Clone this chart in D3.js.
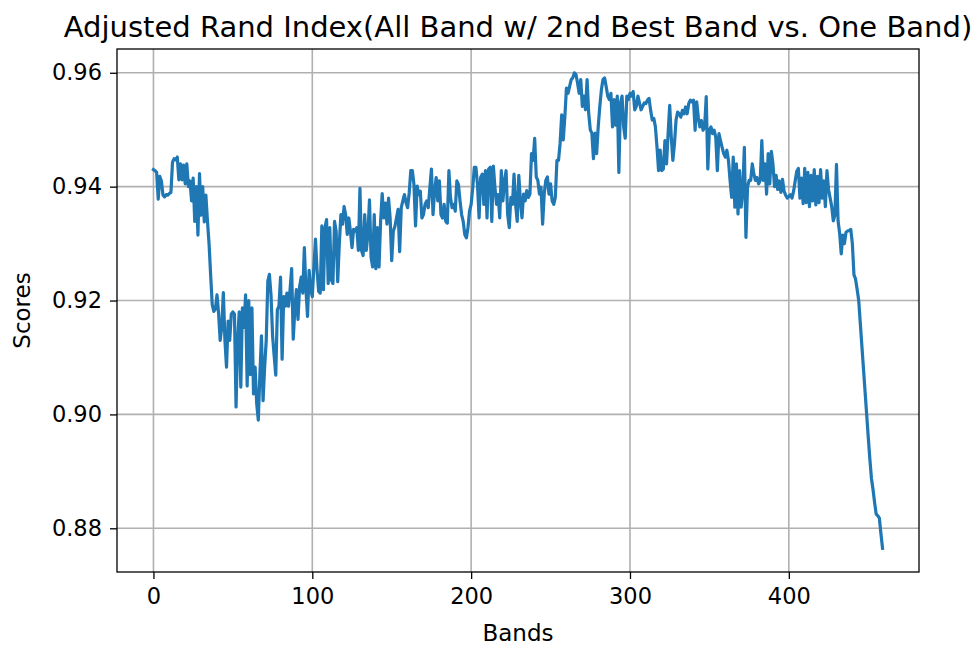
<!DOCTYPE html>
<html>
<head>
<meta charset="utf-8">
<script src="https://cdn.jsdelivr.net/npm/d3@7"></script>
<style>
body { margin: 0; background: #fff; }
text { font-family: "DejaVu Sans", sans-serif; fill: #000; }
.axis path, .axis line { stroke: #000; }
</style>
</head>
<body>
<div class="chart"></div>
<script>
// Adjusted Rand Index per band (index = band number)
var scores = [
    0.9430,0.9428,0.9425,0.9378,0.9418,0.9410,0.9385,0.9382,0.9386,0.9385,
    0.9388,0.9390,0.9443,0.9449,0.9447,0.9452,0.9412,0.9440,0.9412,0.9438,
    0.9405,0.9440,0.9400,0.9410,0.9375,0.9415,0.9339,0.9400,0.9315,0.9423,
    0.9350,0.9400,0.9338,0.9385,0.9340,0.9300,0.9245,0.9193,0.9181,0.9185,
    0.9210,0.9178,0.9130,0.9153,0.9214,0.9130,0.9083,0.9164,0.9130,0.9176,
    0.9180,0.9176,0.9013,0.9130,0.9180,0.9048,0.9187,0.9153,0.9210,0.9050,
    0.9200,0.9070,0.9187,0.9036,0.9083,0.9019,0.8990,0.9070,0.9138,0.9024,
    0.9083,0.9130,0.9234,0.9246,0.9210,0.9138,0.9103,0.9069,0.9184,0.9190,
    0.9241,0.9097,0.9207,0.9190,0.9213,0.9190,0.9219,0.9256,0.9132,0.9184,
    0.9219,0.9167,0.9224,0.9241,0.9213,0.9293,0.9219,0.9172,0.9253,0.9219,
    0.9207,0.9259,0.9308,0.9253,0.9216,0.9213,0.9331,0.9219,0.9328,0.9342,
    0.9230,0.9328,0.9236,0.9230,0.9339,0.9322,0.9233,0.9299,0.9351,0.9334,
    0.9365,0.9351,0.9316,0.9345,0.9322,0.9293,0.9325,0.9322,0.9328,0.9288,
    0.9397,0.9288,0.9279,0.9351,0.9288,0.9316,0.9377,0.9276,0.9259,0.9351,
    0.9256,0.9328,0.9259,0.9339,0.9388,0.9345,0.9371,0.9334,0.9380,0.9345,
    0.9270,0.9322,0.9330,0.9345,0.9360,0.9286,0.9363,0.9375,0.9386,0.9372,
    0.9363,0.9389,0.9428,0.9428,0.9404,0.9331,0.9401,0.9386,0.9392,0.9345,
    0.9351,0.9369,0.9375,0.9363,0.9398,0.9431,0.9351,0.9392,0.9416,0.9375,
    0.9410,0.9351,0.9345,0.9369,0.9339,0.9336,0.9428,0.9381,0.9363,0.9369,
    0.9357,0.9410,0.9404,0.9375,0.9351,0.9339,0.9316,0.9310,0.9328,0.9357,
    0.9369,0.9398,0.9434,0.9434,0.9404,0.9345,0.9416,0.9422,0.9369,0.9428,
    0.9345,0.9431,0.9434,0.9339,0.9436,0.9398,0.9369,0.9386,0.9345,0.9428,
    0.9375,0.9410,0.9428,0.9351,0.9328,0.9381,0.9369,0.9422,0.9369,0.9339,
    0.9420,0.9375,0.9345,0.9387,0.9375,0.9393,0.9381,0.9387,0.9458,0.9446,
    0.9485,0.9417,0.9411,0.9387,0.9399,0.9334,0.9387,0.9411,0.9417,0.9387,
    0.9405,0.9375,0.9369,0.9381,0.9446,0.9446,0.9476,0.9526,0.9482,0.9523,
    0.9573,0.9564,0.9576,0.9588,0.9591,0.9600,0.9597,0.9582,0.9564,0.9588,
    0.9541,0.9559,0.9535,0.9588,0.9529,0.9500,0.9494,0.9449,0.9494,0.9458,
    0.9505,0.9541,0.9570,0.9588,0.9591,0.9576,0.9559,0.9553,0.9564,0.9505,
    0.9553,0.9508,0.9559,0.9425,0.9547,0.9559,0.9505,0.9485,0.9559,0.9553,
    0.9564,0.9559,0.9567,0.9535,0.9541,0.9559,0.9547,0.9535,0.9541,0.9547,
    0.9546,0.9552,0.9555,0.9534,0.9517,0.9520,0.9505,0.9470,0.9428,0.9464,
    0.9428,0.9431,0.9481,0.9440,0.9493,0.9543,0.9487,0.9446,0.9475,0.9517,
    0.9531,0.9528,0.9522,0.9534,0.9528,0.9540,0.9528,0.9546,0.9552,0.9549,
    0.9552,0.9499,0.9549,0.9522,0.9505,0.9516,0.9499,0.9505,0.9558,0.9431,
    0.9499,0.9505,0.9493,0.9499,0.9487,0.9428,0.9493,0.9481,0.9469,0.9458,
    0.9452,0.9464,0.9446,0.9411,0.9381,0.9452,0.9364,0.9440,0.9352,0.9428,
    0.9364,0.9393,0.9469,0.9311,0.9399,0.9411,0.9411,0.9440,0.9422,0.9411,
    0.9416,0.9405,0.9411,0.9481,0.9411,0.9440,0.9387,0.9458,0.9405,0.9462,
    0.9440,0.9400,0.9420,0.9395,0.9410,0.9390,0.9413,0.9392,0.9385,0.9380,
    0.9383,0.9386,0.9380,0.9392,0.9410,0.9427,0.9432,0.9380,0.9415,0.9370,
    0.9432,0.9372,0.9425,0.9365,0.9420,0.9375,0.9430,0.9368,0.9418,0.9372,
    0.9430,0.9380,0.9410,0.9365,0.9428,0.9395,0.9380,0.9365,0.9340,0.9350,
    0.9439,0.9340,0.9318,0.9282,0.9315,0.9300,0.9320,0.9322,0.9323,0.9325,
    0.9300,0.9245,0.9238,0.9220,0.9200,0.9160,0.9120,0.9080,0.9040,0.9000,
    0.8960,0.8922,0.8888,0.8868,0.8845,0.8825,0.8822,0.8818,0.8790,0.8765
];
var xTicks = [0, 100, 200, 300, 400];
var yTicks = [0.88, 0.90, 0.92, 0.94, 0.96];
var title = "Adjusted Rand Index(All Band w/ 2nd Best Band vs. One Band)";
var xLabel = "Bands";
var yLabel = "Scores";

var svgWidth = 977;
var svgHeight = 650;
var margin = { top: 49, right: 58, bottom: 78, left: 117 };
var width = svgWidth - margin.left - margin.right;
var height = svgHeight - margin.top - margin.bottom;

var svg = d3
    .select(".chart")
    .append("svg")
    .attr("width", svgWidth)
    .attr("height", svgHeight);

var chart = svg.append("g")
    .attr("transform", "translate(" + margin.left + "," + margin.top + ")");

// matplotlib style 5% margins
var last = scores.length - 1;
var yMin = d3.min(scores);
var yMax = d3.max(scores);
var yPad = (yMax - yMin) * 0.05;

var xScale = d3.scaleLinear()
    .domain([-0.05 * last, last * 1.05])
    .range([0, width]);
var yScale = d3.scaleLinear()
    .domain([yMin - yPad, yMax + yPad])
    .range([height, 0]);

// grid
chart.append("g")
    .selectAll("line")
    .data(xTicks)
    .enter()
    .append("line")
    .attr("x1", function(d) { return xScale(d); })
    .attr("x2", function(d) { return xScale(d); })
    .attr("y1", 0)
    .attr("y2", height)
    .attr("stroke", "#b0b0b0")
    .attr("stroke-width", 1.6);

chart.append("g")
    .selectAll("line")
    .data(yTicks)
    .enter()
    .append("line")
    .attr("x1", 0)
    .attr("x2", width)
    .attr("y1", function(d) { return yScale(d); })
    .attr("y2", function(d) { return yScale(d); })
    .attr("stroke", "#b0b0b0")
    .attr("stroke-width", 1.6);

var line = d3.line()
    .x(function(d, i) { return xScale(i); })
    .y(function(d) { return yScale(d); });

chart.append("path")
    .datum(scores)
    .attr("fill", "none")
    .attr("stroke", "#1f77b4")
    .attr("stroke-width", 3.2)
    .attr("stroke-linejoin", "round")
    .attr("stroke-linecap", "square")
    .attr("d", line);

// frame
chart.append("rect")
    .attr("width", width)
    .attr("height", height)
    .attr("fill", "none")
    .attr("stroke", "#000")
    .attr("stroke-width", 1.3);

var bottomAxis = d3.axisBottom(xScale)
    .tickValues(xTicks)
    .tickSize(7)
    .tickPadding(9)
    .tickSizeOuter(0);
var leftAxis = d3.axisLeft(yScale)
    .tickValues(yTicks)
    .tickFormat(d3.format(".2f"))
    .tickSize(7)
    .tickPadding(8)
    .tickSizeOuter(0);

chart.append("g")
    .attr("class", "axis")
    .attr("transform", "translate(0," + height + ")")
    .call(bottomAxis)
    .call(function(g) { g.select(".domain").remove(); });

chart.append("g")
    .attr("class", "axis")
    .call(leftAxis)
    .call(function(g) { g.select(".domain").remove(); });

chart.selectAll(".axis text")
    .style("font-family", "'DejaVu Sans', sans-serif")
    .style("font-size", "22.5px");
chart.selectAll(".axis line").attr("stroke-width", 1.3);

svg.append("text")
    .attr("x", margin.left + width / 2)
    .attr("y", 37)
    .attr("text-anchor", "middle")
    .style("font-size", "29px")
    .text(title);

svg.append("text")
    .attr("x", margin.left + width / 2)
    .attr("y", 641)
    .attr("text-anchor", "middle")
    .style("font-size", "23px")
    .text(xLabel);

svg.append("text")
    .attr("transform", "translate(30," + (margin.top + height / 2) + ") rotate(-90)")
    .attr("text-anchor", "middle")
    .style("font-size", "23px")
    .text(yLabel);
</script>
</body>
</html>
